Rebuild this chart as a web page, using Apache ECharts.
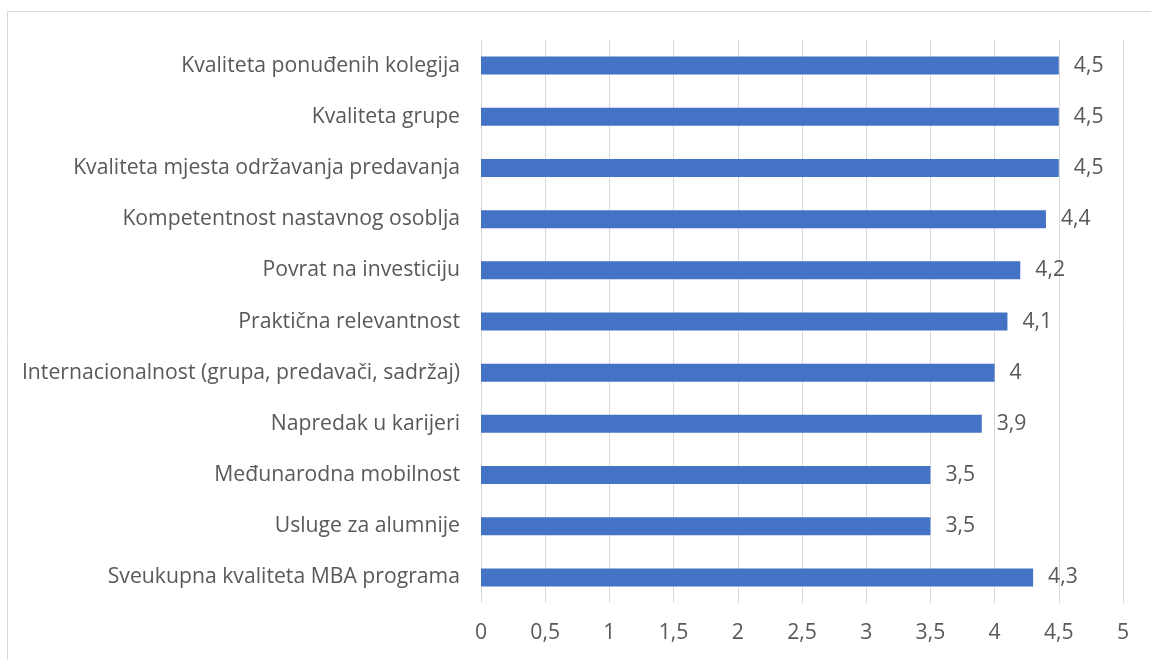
<!DOCTYPE html>
<html>
<head>
<meta charset="utf-8">
<script src="https://cdn.jsdelivr.net/npm/echarts@6/dist/echarts.min.js"></script>
<style>
  html, body { margin: 0; padding: 0; background: #fff; }
  #main { width: 1151px; height: 660px; }
</style>
</head>
<body>
<div id="main"></div>
<script>
// categories top to bottom
const categories = [
  'Kvaliteta ponuđenih kolegija',
  'Kvaliteta grupe',
  'Kvaliteta mjesta održavanja predavanja',
  'Kompetentnost nastavnog osoblja',
  'Povrat na investiciju',
  'Praktična relevantnost',
  'Internacionalnost (grupa, predavači, sadržaj)',
  'Napredak u karijeri',
  'Međunarodna mobilnost',
  'Usluge za alumnije',
  'Sveukupna kvaliteta MBA programa'
];
const values = [4.5, 4.5, 4.5, 4.4, 4.2, 4.1, 4, 3.9, 3.5, 3.5, 4.3];

const fmt = v => String(v).replace('.', ',');
const textColor = '#595959';
const font = 'Open Sans';
const fs = 21.2;

const myChart = echarts.init(document.getElementById('main'));
myChart.setOption({
  animation: false,
  graphic: [{
    type: 'rect',
    shape: { x: 7.5, y: 11.5, width: 1300, height: 800 },
    style: { fill: 'none', stroke: '#d9d9d9', lineWidth: 1 },
    silent: true
  }],
  grid: { left: 481, right: 28, top: 40, bottom: 57 },
  xAxis: {
    type: 'value',
    min: 0,
    max: 5,
    interval: 0.5,
    axisLine: { show: false },
    axisTick: { show: false },
    splitLine: { lineStyle: { color: '#d9d9d9', width: 1 } },
    axisLabel: {
      color: textColor, fontFamily: font, fontSize: fs, margin: 19,
      formatter: v => fmt(v)
    }
  },
  yAxis: {
    type: 'category',
    data: categories,
    inverse: true,
    axisLine: { show: false },
    axisTick: { show: false },
    axisLabel: { color: textColor, fontFamily: font, fontSize: fs, margin: 21 }
  },
  series: [{
    type: 'bar',
    data: values,
    barWidth: 18,
    itemStyle: { color: '#4472C4' },
    label: {
      show: true,
      position: 'right',
      distance: 15,
      color: textColor,
      fontFamily: font,
      fontSize: fs,
      formatter: p => fmt(p.value)
    }
  }]
});
</script>
</body>
</html>
